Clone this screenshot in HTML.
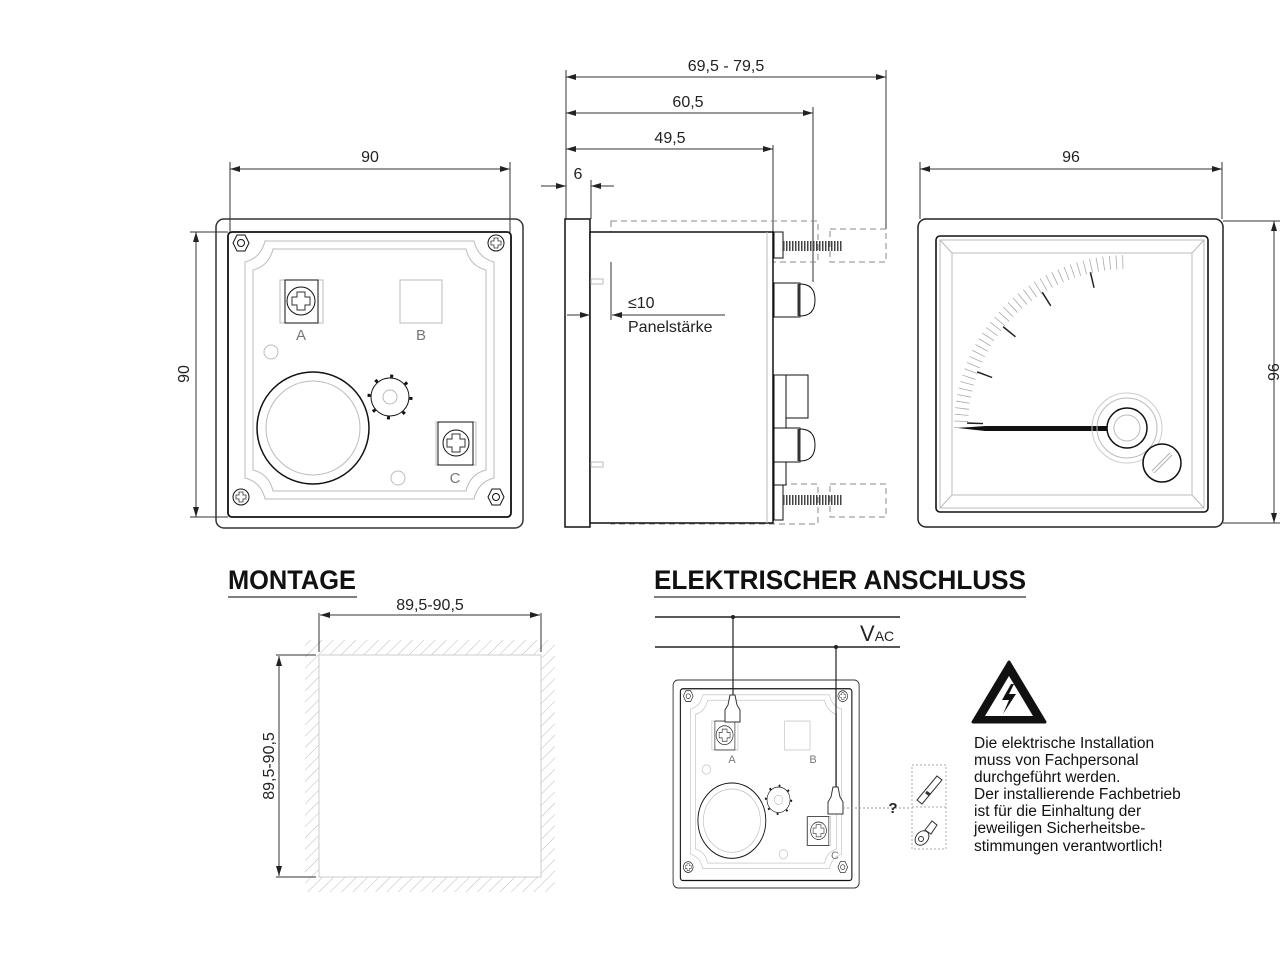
<!DOCTYPE html>
<html><head><meta charset="utf-8"><style>
html,body{margin:0;padding:0;background:#fff;}
svg{display:block;font-family:"Liberation Sans",Arial,sans-serif;}
</style></head><body>
<svg width="1280" height="960" viewBox="0 0 1280 960" xmlns="http://www.w3.org/2000/svg">
<defs>
<marker id="ar" viewBox="0 0 10 6" refX="10" refY="3" markerWidth="10" markerHeight="6" orient="auto-start-reverse" markerUnits="userSpaceOnUse"><path d="M0,0 L10,3 L0,6 z" fill="#222"/></marker>
<pattern id="hatch" width="8" height="8" patternUnits="userSpaceOnUse" patternTransform="rotate(45)"><line x1="0" y1="0" x2="0" y2="8" stroke="#bbb" stroke-width="1"/></pattern>
<g id="rear">
 <rect x="216" y="219" width="307" height="309" rx="8" fill="#fff" stroke="#333" stroke-width="1.5"/>
 <rect x="228" y="232" width="283" height="285" rx="4" fill="none" stroke="#111" stroke-width="1.8"/>
 <path d="M265,241 H474 Q478,258 494,262 V478 Q478,482 474,499 H265 Q261,482 245,478 V262 Q261,258 265,241 Z" fill="none" stroke="#bbb" stroke-width="1"/>
 <path d="M273,249 H466 Q470,266 486,270 V470 Q470,474 466,491 H273 Q269,474 253,470 V270 Q269,266 273,249 Z" fill="none" stroke="#bbb" stroke-width="1"/>
 <rect x="280" y="280" width="43" height="43" fill="none" stroke="#bbb"/>
 <rect x="285" y="280" width="33" height="43" fill="none" stroke="#111"/>
 <circle cx="301" cy="301" r="14" fill="none" stroke="#111"/>
 <path d="M297,292 h8 v5 h5 v8 h-5 v5 h-8 v-5 h-5 v-8 h5 z" fill="none" stroke="#333"/>
 <rect x="400" y="280" width="42" height="43" fill="none" stroke="#bbb"/>
 <circle cx="271" cy="352" r="7" fill="none" stroke="#bbb"/>
 <circle cx="313" cy="428" r="56" fill="none" stroke="#111" stroke-width="1.5"/>
 <circle cx="313" cy="428" r="47" fill="none" stroke="#bbb"/>
 <circle cx="390" cy="397" r="19" fill="#fff" stroke="#111"/>
 <circle cx="390" cy="397" r="21" fill="none" stroke="#111" stroke-width="3" stroke-dasharray="3 13.5"/>
 <circle cx="390" cy="397" r="7" fill="none" stroke="#bbb"/>
 <rect x="436" y="422" width="40" height="43" fill="none" stroke="#bbb"/>
 <rect x="438" y="422" width="35" height="43" fill="none" stroke="#111"/>
 <circle cx="456" cy="443" r="13" fill="none" stroke="#111"/>
 <path d="M452,434 h8 v5 h5 v8 h-5 v5 h-8 v-5 h-5 v-8 h5 z" fill="none" stroke="#333"/>
 <circle cx="398" cy="478" r="7" fill="none" stroke="#bbb"/>
 <path d="M233,243 l4,-8 h8 l4,8 l-4,8 h-8 z" fill="none" stroke="#111"/><circle cx="241" cy="243" r="3.5" fill="none" stroke="#111"/>
 <path d="M488,497 l4,-8 h8 l4,8 l-4,8 h-8 z" fill="none" stroke="#111"/><circle cx="496" cy="497" r="3.5" fill="none" stroke="#111"/>
 <circle cx="496" cy="243" r="8" fill="none" stroke="#111"/><path d="M494,238 h4 v3 h3 v4 h-3 v3 h-4 v-3 h-3 v-4 h3 z" fill="none" stroke="#333" stroke-width=".8"/>
 <circle cx="241" cy="497" r="8" fill="none" stroke="#111"/><path d="M239,492 h4 v3 h3 v4 h-3 v3 h-4 v-3 h-3 v-4 h3 z" fill="none" stroke="#333" stroke-width=".8"/>
</g>
</defs>

<!-- REAR VIEW -->
<use href="#rear"/>
<text x="301" y="340" font-size="15" fill="#777" text-anchor="middle">A</text>
<text x="421" y="340" font-size="15" fill="#777" text-anchor="middle">B</text>
<text x="455" y="483" font-size="15" fill="#777" text-anchor="middle">C</text>
<g stroke="#333" stroke-width="1" fill="none">
 <line x1="230" y1="162" x2="230" y2="232"/><line x1="510" y1="162" x2="510" y2="232"/>
 <line x1="230" y1="169" x2="510" y2="169" marker-start="url(#ar)" marker-end="url(#ar)"/>
 <line x1="190" y1="232" x2="228" y2="232"/><line x1="190" y1="517" x2="228" y2="517"/>
 <line x1="196" y1="232" x2="196" y2="517" marker-start="url(#ar)" marker-end="url(#ar)"/>
</g>
<text x="370" y="162" font-size="16" text-anchor="middle" fill="#222">90</text>
<text transform="translate(189,374) rotate(-90)" font-size="16" text-anchor="middle" fill="#222">90</text>

<!-- SIDE VIEW -->
<g stroke="#333" stroke-width="1" fill="none">
 <line x1="566" y1="70" x2="566" y2="219"/>
 <line x1="591" y1="180" x2="591" y2="219"/>
 <line x1="773" y1="145" x2="773" y2="232"/>
 <line x1="813" y1="107" x2="813" y2="282"/>
 <line x1="886" y1="70" x2="886" y2="229"/>
 <line x1="566" y1="77" x2="886" y2="77" marker-start="url(#ar)" marker-end="url(#ar)"/>
 <line x1="566" y1="113" x2="813" y2="113" marker-start="url(#ar)" marker-end="url(#ar)"/>
 <line x1="566" y1="149" x2="773" y2="149" marker-start="url(#ar)" marker-end="url(#ar)"/>
 <line x1="541" y1="186" x2="566" y2="186" marker-end="url(#ar)"/>
 <line x1="614" y1="186" x2="591" y2="186" marker-end="url(#ar)"/>
</g>
<text x="726" y="71" font-size="16" text-anchor="middle" fill="#222">69,5 - 79,5</text>
<text x="688" y="107" font-size="16" text-anchor="middle" fill="#222">60,5</text>
<text x="670" y="143" font-size="16" text-anchor="middle" fill="#222">49,5</text>
<text x="578" y="179" font-size="16" text-anchor="middle" fill="#222">6</text>

<g fill="none" stroke="#888" stroke-width="1" stroke-dasharray="6 4">
 <rect x="611" y="221" width="207" height="41"/>
 <rect x="830" y="229" width="56" height="33"/>
 <rect x="611" y="484" width="207" height="40"/>
 <rect x="830" y="484" width="56" height="33"/>
</g>
<rect x="565" y="219" width="25" height="308" fill="#fff" stroke="#111" stroke-width="1.5"/>
<rect x="590" y="232" width="183" height="291" fill="#fff" stroke="#111" stroke-width="1.5"/>
<line x1="767" y1="232" x2="767" y2="523" stroke="#bbb"/>
<rect x="591" y="279" width="12" height="5" fill="none" stroke="#bbb"/>
<rect x="591" y="462" width="12" height="5" fill="none" stroke="#bbb"/>
<g stroke="#111" fill="#fff">
 <rect x="774" y="232" width="9" height="26"/>
 <rect x="774" y="484" width="9" height="36"/>
 <rect x="774" y="283" width="26" height="34"/>
 <rect x="774" y="375" width="12" height="110"/>
 <rect x="786" y="375" width="22" height="43"/>
 <rect x="774" y="428" width="26" height="34"/>
 <path d="M800,284 q15,0 15,16 q0,16 -15,16 z"/>
 <path d="M800,429 q15,0 15,16 q0,16 -15,16 z"/>
</g>
<g stroke="#333" stroke-width="1.2">
 <line x1="799" y1="284" x2="799" y2="316" stroke-width="3"/>
 <line x1="799" y1="429" x2="799" y2="461" stroke-width="3"/>
</g>
<g stroke="#444" stroke-width="10" stroke-dasharray="1.5 1.5"><line x1="783" y1="246" x2="843" y2="246"/><line x1="783" y1="500" x2="843" y2="500"/></g>
<g stroke="#333" stroke-width="1" fill="none">
 <line x1="611" y1="262" x2="611" y2="320"/>
 <line x1="567" y1="315" x2="590" y2="315" marker-end="url(#ar)"/>
 <line x1="725" y1="315" x2="612" y2="315" marker-end="url(#ar)"/>
</g>
<text x="628" y="308" font-size="16" fill="#222">≤10</text>
<text x="628" y="332" font-size="16" fill="#222">Panelstärke</text>

<!-- FRONT VIEW -->
<g stroke="#333" stroke-width="1" fill="none">
 <line x1="920" y1="162" x2="920" y2="219"/><line x1="1222" y1="162" x2="1222" y2="219"/>
 <line x1="920" y1="169" x2="1222" y2="169" marker-start="url(#ar)" marker-end="url(#ar)"/>
 <line x1="1223" y1="221" x2="1280" y2="221"/><line x1="1223" y1="523" x2="1280" y2="523"/>
 <line x1="1274" y1="221" x2="1274" y2="523" marker-start="url(#ar)" marker-end="url(#ar)"/>
</g>
<text x="1071" y="162" font-size="16" text-anchor="middle" fill="#222">96</text>
<text transform="translate(1268,372) rotate(90)" font-size="16" text-anchor="middle" fill="#222">96</text>
<rect x="918" y="219" width="305" height="308" rx="8" fill="#fff" stroke="#222" stroke-width="1.5"/>
<rect x="936" y="236" width="272" height="276" rx="4" fill="none" stroke="#111" stroke-width="1.6"/>
<rect x="940" y="240" width="264" height="268" fill="none" stroke="#bbb"/>
<rect x="952" y="253" width="240" height="242" fill="none" stroke="#bbb"/>
<g stroke="#bbb"><line x1="940" y1="240" x2="952" y2="253"/><line x1="1204" y1="240" x2="1192" y2="253"/><line x1="940" y1="508" x2="952" y2="495"/><line x1="1204" y1="508" x2="1192" y2="495"/></g>
<path d="M961,428 A166,166 0 0 1 1127,262" fill="none" stroke="#aaa" stroke-width="14" stroke-dasharray="0.8 5.6"/>
<path d="M975,428 A152,152 0 0 1 1127,276" fill="none" stroke="#222" stroke-width="16" stroke-dasharray="0 4 1.5 44.2"/>
<path d="M958,428 L985,426 L1110,426 L1110,431 L985,431 Z" fill="#111"/>
<circle cx="1127" cy="428" r="30" fill="none" stroke="#bbb"/>
<circle cx="1127" cy="428" r="35" fill="none" stroke="#ccc"/>
<circle cx="1127" cy="428" r="20" fill="#fff" stroke="#111" stroke-width="1.5"/>
<circle cx="1127" cy="428" r="13" fill="none" stroke="#bbb"/>
<circle cx="1162" cy="463" r="19" fill="#fff" stroke="#111" stroke-width="1.5"/>
<line x1="1153" y1="472" x2="1171" y2="454" stroke="#aaa" stroke-width="4"/>
<line x1="1153" y1="472" x2="1171" y2="454" stroke="#fff" stroke-width="2"/>

<!-- MONTAGE -->
<text x="228" y="589" font-size="27" font-weight="bold" fill="#111" textLength="128" lengthAdjust="spacingAndGlyphs">MONTAGE</text>
<line x1="228" y1="597" x2="357" y2="597" stroke="#555" stroke-width="1.5"/>
<path d="M305,640 H555 V892 H305 Z M319,655 V877 H541 V655 Z" fill="url(#hatch)" fill-rule="evenodd"/>
<rect x="319" y="655" width="222" height="222" fill="none" stroke="#ccc"/>
<g stroke="#333" stroke-width="1" fill="none">
 <line x1="319" y1="613" x2="319" y2="652"/><line x1="541" y1="613" x2="541" y2="652"/>
 <line x1="320" y1="615" x2="540" y2="615" marker-start="url(#ar)" marker-end="url(#ar)"/>
 <line x1="276" y1="655" x2="316" y2="655"/><line x1="276" y1="877" x2="316" y2="877"/>
 <line x1="279" y1="656" x2="279" y2="876" marker-start="url(#ar)" marker-end="url(#ar)"/>
</g>
<text x="430" y="610" font-size="16" text-anchor="middle" fill="#222">89,5-90,5</text>
<text transform="translate(274,766) rotate(-90)" font-size="16" text-anchor="middle" fill="#222">89,5-90,5</text>

<!-- ELEKTRISCHER ANSCHLUSS -->
<text x="654" y="589" font-size="27" font-weight="bold" fill="#111" textLength="372" lengthAdjust="spacingAndGlyphs">ELEKTRISCHER ANSCHLUSS</text>
<line x1="654" y1="597" x2="1026" y2="597" stroke="#555" stroke-width="1.5"/>
<g transform="translate(542.2,532.6) scale(0.606,0.673)"><use href="#rear"/></g>
<text x="732" y="763" font-size="11" fill="#777" text-anchor="middle">A</text>
<text x="813" y="763" font-size="11" fill="#777" text-anchor="middle">B</text>
<text x="835" y="859" font-size="11" fill="#777" text-anchor="middle">C</text>
<line x1="655" y1="617" x2="900" y2="617" stroke="#222" stroke-width="1.5"/>
<line x1="655" y1="647" x2="900" y2="647" stroke="#222" stroke-width="1.5"/>
<text x="860" y="641" font-size="22" fill="#222">V<tspan font-size="14">AC</tspan></text>
<circle cx="733" cy="617" r="2" fill="#222"/><circle cx="836" cy="647" r="2" fill="#222"/>
<line x1="733" y1="617" x2="733" y2="700" stroke="#222" stroke-width="1.2"/>
<line x1="836" y1="647" x2="836" y2="790" stroke="#222" stroke-width="1.2"/>
<path d="M730,695 l-2,10 l-3,5 v12 h15 v-12 l-3,-5 l-2,-10 z" fill="#fff" stroke="#333"/>
<path d="M833,787 l-2,10 l-3,5 v12 h15 v-12 l-3,-5 l-2,-10 z" fill="#fff" stroke="#333"/>
<line x1="843" y1="808" x2="910" y2="808" stroke="#999" stroke-dasharray="2 2"/>
<text x="893" y="813" font-size="15" font-weight="bold" fill="#222" text-anchor="middle">?</text>
<rect x="912" y="765" width="34" height="84" fill="none" stroke="#aaa" stroke-dasharray="2 2"/>
<line x1="912" y1="807" x2="946" y2="807" stroke="#aaa" stroke-dasharray="2 2"/>
<path d="M917,800 l20,-24 l5,4 l-20,24 z" fill="#fff" stroke="#333"/>
<path d="M926,792 l4,3" stroke="#333" stroke-width="3"/>
<ellipse cx="922" cy="838" rx="6" ry="8" transform="rotate(40 922 838)" fill="#fff" stroke="#333"/>
<circle cx="921" cy="839" r="2.5" fill="none" stroke="#333"/>
<path d="M925,830 l7,-9 l5,4 l-6,9 z" fill="#fff" stroke="#333"/>
<path d="M1009,662 L973,722 L1045,722 Z" fill="#111" stroke="#111" stroke-width="3" stroke-linejoin="round"/>
<path d="M1009,676 L985,716 L1033,716 Z" fill="#fff"/>
<path d="M1011,684 L1002,700 L1009,700 L1003,714 L1016,694 L1009,694 L1014,684 Z" fill="#111"/>
<g font-size="15.5" fill="#111">
<text x="974" y="748">Die elektrische Installation</text>
<text x="974" y="765">muss von Fachpersonal</text>
<text x="974" y="782">durchgeführt werden.</text>
<text x="974" y="799">Der installierende Fachbetrieb</text>
<text x="974" y="816">ist für die Einhaltung der</text>
<text x="974" y="833">jeweiligen Sicherheitsbe-</text>
<text x="974" y="851">stimmungen verantwortlich!</text>
</g>
</svg>
</body></html>
